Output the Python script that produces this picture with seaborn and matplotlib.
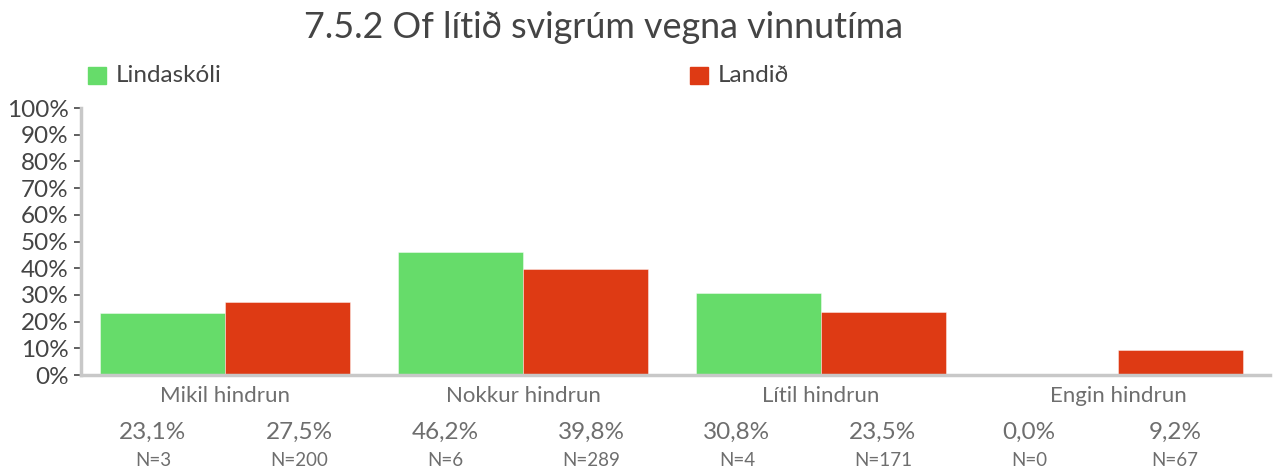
import matplotlib
matplotlib.use("Agg")
import matplotlib.pyplot as plt
import seaborn as sns
import pandas as pd

# Data
categories = ["Mikil hindrun", "Nokkur hindrun", "Lítil hindrun", "Engin hindrun"]
series_names = ["Lindaskóli", "Landið"]
school_pct = [23.1, 46.2, 30.8, 0.0]
national_pct = [27.5, 39.8, 23.5, 9.2]
school_n = [3, 6, 4, 0]
national_n = [200, 289, 171, 67]
title = "7.5.2 Of lítið svigrúm vegna vinnutíma"

colors = ["#66dc6a", "#de3a14"]
text_dark = "#444444"
text_gray = "#6e6e6e"
axis_gray = "#c8c8c8"

df = pd.DataFrame({
    "cat": categories * 2,
    "series": [series_names[0]] * 4 + [series_names[1]] * 4,
    "pct": school_pct + national_pct,
})

sns.set_theme(style="white")
plt.rcParams["font.family"] = ["Lato", "DejaVu Sans"]

fig = plt.figure(figsize=(12.74, 4.68), dpi=100)
ax = fig.add_axes([81 / 1274, 93 / 468, (1270 - 81) / 1274, (375 - 108) / 468])

sns.barplot(data=df, x="cat", y="pct", hue="series", order=categories,
            hue_order=series_names, palette=colors, width=0.84, gap=0,
            saturation=1, edgecolor="#ffffff80", linewidth=0.6, ax=ax,
            legend=False)

ax.set_ylim(0, 100)
ax.set_xlim(-0.485, 3.51)
ax.set_yticks(range(0, 101, 10))
ax.set_yticklabels([f"{v}%" for v in range(0, 101, 10)], fontsize=17.5,
                   color=text_dark)
ax.tick_params(axis="y", left=True, length=5, width=1.2, color=text_dark, pad=4)
ax.tick_params(axis="x", bottom=False, labelsize=16, labelcolor=text_gray, pad=2)
ax.set_xlabel("")
ax.set_ylabel("")
for side in ("top", "right"):
    ax.spines[side].set_visible(False)
for side in ("left", "bottom"):
    ax.spines[side].set_color(axis_gray)
    ax.spines[side].set_linewidth(2.5)

# Value and count table below the category labels
trans = fig.transFigure
col_w = 146
for i in range(len(categories)):
    for j, (pcts, ns) in enumerate([(school_pct, school_n), (national_pct, national_n)]):
        k = 2 * i + j
        xpx = 80 + col_w * (k + 0.5)
        ax.text(xpx / 1274, 1 - 432 / 468,
                f"{pcts[i]:.1f}%".replace(".", ","), transform=trans,
                ha="center", va="center", fontsize=17.5, color=text_gray)
        ax.text(xpx / 1274, 1 - 460 / 468, f"N={ns[i]}", transform=trans,
                ha="center", va="center", fontsize=13.5, color=text_gray)

# Title
fig.text(604 / 1274, 1 - 28 / 468, title, ha="center", va="center",
         fontsize=25.8, color=text_dark)

# Legend
for (x0, name, col) in [(88, series_names[0], colors[0]), (690, series_names[1], colors[1])]:
    fig.patches.append(plt.Rectangle((x0 / 1274, 1 - 84 / 468), 18 / 1274, 17 / 468,
                                     transform=fig.transFigure, color=col,
                                     figure=fig))
    fig.text((x0 + 28) / 1274, 1 - 75 / 468, name, ha="left", va="center",
             fontsize=17.5, color=text_dark)

fig.savefig("out.png", dpi=100, facecolor="white")
